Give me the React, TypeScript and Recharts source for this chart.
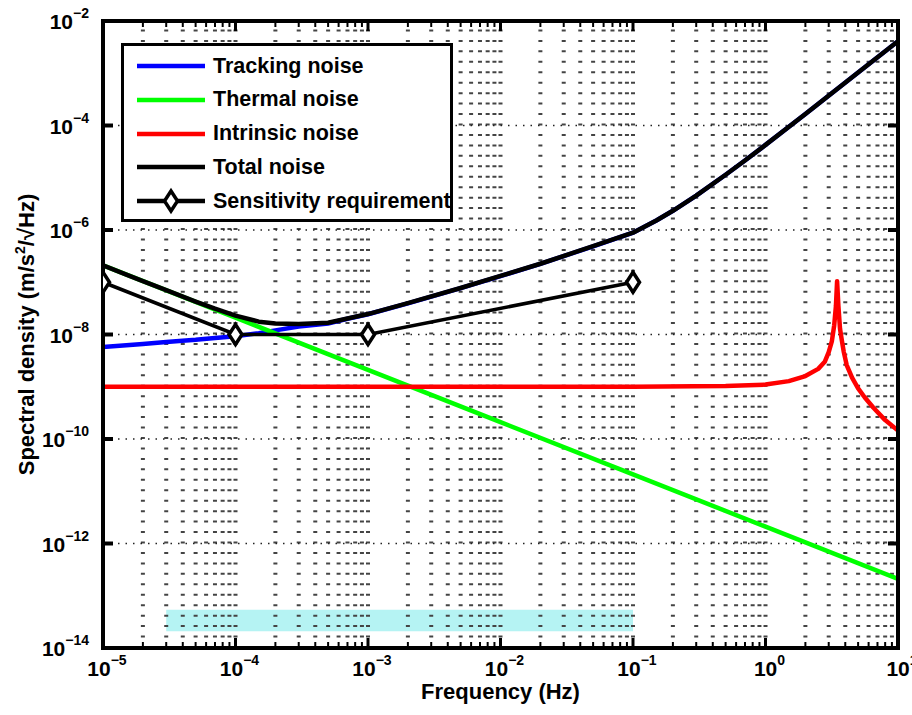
import { LineChart, Line, XAxis, YAxis, ReferenceLine, ReferenceArea, Label } from 'recharts';

const FONT = '"Liberation Sans", Arial, Helvetica, sans-serif';

// tracking noise and total noise share one frequency grid (Hz)
const freqNoise = [1e-5, 1.5e-5, 2e-5, 3e-5, 5e-5, 7e-5, 1e-4, 1.5e-4, 2e-4, 3e-4, 5e-4, 7e-4, 1e-3, 2e-3, 5e-3, 1e-2, 2e-2, 5e-2, 0.1, 0.15, 0.2, 0.3, 0.5, 0.7, 1, 2, 5, 10];
const trackingNoise = [5.75e-9, 6.2e-9, 6.6e-9, 7.2e-9, 7.9e-9, 8.6e-9, 9.3e-9, 1.06e-8, 1.2e-8, 1.42e-8, 1.62e-8, 2.0e-8, 2.44e-8, 3.95e-8, 7.7e-8, 1.31e-7, 2.25e-7, 4.88e-7, 8.9e-7, 1.52e-6, 2.33e-6, 4.54e-6, 1.14e-5, 2.14e-5, 4.25e-5, 1.66e-4, 1.03e-3, 4.1e-3];
const totalNoise = [2.1e-7, 1.4e-7, 1.05e-7, 7.04e-8, 4.27e-8, 3.12e-8, 2.3e-8, 1.76e-8, 1.62e-8, 1.58e-8, 1.68e-8, 2.03e-8, 2.46e-8, 3.98e-8, 7.76e-8, 1.32e-7, 2.26e-7, 4.9e-7, 8.9e-7, 1.52e-6, 2.33e-6, 4.54e-6, 1.14e-5, 2.14e-5, 4.25e-5, 1.66e-4, 1.03e-3, 4.1e-3];

const freqThermal = [1e-5, 1e-4, 1e-3, 1e-2, 0.1, 1, 10];
const thermalNoise = [2.1e-7, 2.1e-8, 2.1e-9, 2.1e-10, 2.1e-11, 2.1e-12, 2.1e-13];

const freqIntrinsic = [1e-5, 1e-3, 0.1, 0.5, 1, 1.5, 2, 2.5, 2.8, 3.0, 3.17, 3.3, 3.4, 3.47, 3.55, 3.65, 3.76, 3.9, 4.1, 4.5, 5, 5.6, 6.5, 8, 10];
const intrinsicNoise = [1e-9, 1e-9, 1e-9, 1.03e-9, 1.1e-9, 1.28e-9, 1.6e-9, 2.2e-9, 3.0e-9, 4.6e-9, 7.5e-9, 1.5e-8, 3.5e-8, 1.05e-7, 3.5e-8, 1.3e-8, 8e-9, 4.6e-9, 2.6e-9, 1.5e-9, 9.3e-10, 6.3e-10, 4.0e-10, 2.3e-10, 1.45e-10];

const freqRequirement = [1e-5, 1e-4, 1e-3, 0.1];
const requirement = [1e-7, 1e-8, 1e-8, 1e-7];

// frequency band marker
const bandFreq = [3e-5, 0.1];
const bandLevel = [2.1e-14, 5.4e-14];

const xTickExp = [-5, -4, -3, -2, -1, 0, 1];
const yTickExp = [-14, -12, -10, -8, -6, -4, -2];

const xMajor = xTickExp.map((e) => Math.pow(10, e));
const yMajor = yTickExp.map((e) => Math.pow(10, e));
const xMinor = xTickExp.slice(0, -1).flatMap((e) => [2, 3, 4, 5, 6, 7, 8, 9].map((m) => m * Math.pow(10, e)));
const xTicks = [...xMajor, ...xMinor].sort((a, b) => a - b);

const pts = (fs: number[], vs: number[]) => fs.map((f, i) => ({ f, v: vs[i] }));

const legendItems = [
  { name: 'Tracking noise', color: '#0000ff', marker: false },
  { name: 'Thermal noise', color: '#00ff00', marker: false },
  { name: 'Intrinsic noise', color: '#ff0000', marker: false },
  { name: 'Total noise', color: '#000000', marker: false },
  { name: 'Sensitivity requirement', color: '#000000', marker: true },
];

const isDecade = (v: number) => Math.abs(Math.log10(v) - Math.round(Math.log10(v))) < 1e-6;
const expOf = (v: number) => {
  const e = Math.round(Math.log10(v));
  return e < 0 ? '\u2212' + Math.abs(e) : String(e);
};

const diamond = (cx: number, cy: number) => `M${cx},${cy - 10} L${cx + 6.5},${cy} L${cx},${cy + 10} L${cx - 6.5},${cy} Z`;

const XTick = (props: any, side: string) => {
  const { x, y, payload } = props;
  const v = payload.value;
  const major = isDecade(v);
  const dir = side === 'bottom' ? -1 : 1;
  return (
    <g>
      <line x1={x} x2={x} y1={y} y2={y + dir * (major ? 10 : 6)} stroke="#000" strokeWidth={major ? 3 : 2} />
      {side === 'bottom' && major && (
        <text x={x + 4} y={y + 28} textAnchor="middle" fontFamily={FONT} fontWeight="bold" fontSize={21} fill="#000">
          10
          <tspan dy={-11} fontSize={14}>{expOf(v)}</tspan>
        </text>
      )}
    </g>
  );
};

const YTick = (props: any, side: string) => {
  const { x, y, payload } = props;
  const v = payload.value;
  const dir = side === 'left' ? 1 : -1;
  return (
    <g>
      <line x1={x} x2={x + dir * 10} y1={y} y2={y} stroke="#000" strokeWidth={4} />
      {side === 'left' && (
        <text x={x - 14} y={y + 8} textAnchor="end" fontFamily={FONT} fontWeight="bold" fontSize={21} fill="#000">
          10
          <tspan dy={-11} fontSize={14}>{expOf(v)}</tspan>
        </text>
      )}
    </g>
  );
};

const YLabel = (props: any) => {
  const vb = props.viewBox;
  const cx = vb.x + 11;
  const cy = vb.y + vb.height / 2;
  return (
    <text transform={`rotate(-90 ${cx} ${cy})`} x={cx} y={cy} textAnchor="middle" fontFamily={FONT} fontWeight="bold" fontSize={22} fill="#000">
      Spectral density (m/s
      <tspan dy={-9} fontSize={14}>2</tspan>
      <tspan dy={9}>/{'\u221A'}Hz)</tspan>
    </text>
  );
};

const XLabel = (props: any) => {
  const vb = props.viewBox;
  return (
    <text x={vb.x + vb.width / 2} y={vb.y + 51} textAnchor="middle" fontFamily={FONT} fontWeight="bold" fontSize={22} fill="#000">
      Frequency (Hz)
    </text>
  );
};

const renderDiamond = (props: any) => {
  const { cx, cy, index } = props;
  return <path key={`dm-${index}`} d={diamond(cx, cy)} fill="#fff" stroke="#000" strokeWidth={3.5} />;
};

const axisLine = { stroke: '#000', strokeWidth: 4, strokeLinecap: 'square' as const };

export default function App() {
  return (
    <div style={{ position: 'absolute', left: 0, top: 0, width: 912, height: 715, background: '#fff' }}>
      <LineChart width={912} height={715} margin={{ top: 20, right: 13, bottom: 0, left: 23 }}>
        <XAxis
          dataKey="f"
          type="number"
          scale="log"
          domain={[1e-5, 10]}
          allowDataOverflow
          ticks={xTicks}
          interval={0}
          tickSize={0}
          tickMargin={0}
          tickLine={false}
          axisLine={axisLine}
          height={67}
          tick={(p: any) => XTick(p, 'bottom')}
        >
          <Label content={XLabel} />
        </XAxis>
        <XAxis
          xAxisId="top"
          orientation="top"
          dataKey="f"
          type="number"
          scale="log"
          domain={[1e-5, 10]}
          allowDataOverflow
          ticks={xTicks}
          interval={0}
          tickSize={0}
          tickMargin={0}
          tickLine={false}
          axisLine={axisLine}
          height={1}
          tick={(p: any) => XTick(p, 'top')}
        />
        <YAxis
          type="number"
          scale="log"
          domain={[1e-14, 1e-2]}
          allowDataOverflow
          ticks={yMajor}
          interval={0}
          tickSize={0}
          tickMargin={0}
          tickLine={false}
          axisLine={axisLine}
          width={80}
          tick={(p: any) => YTick(p, 'left')}
        >
          <Label content={YLabel} />
        </YAxis>
        <YAxis
          yAxisId="right"
          orientation="right"
          type="number"
          scale="log"
          domain={[1e-14, 1e-2]}
          allowDataOverflow
          ticks={yMajor}
          interval={0}
          tickSize={0}
          tickMargin={0}
          tickLine={false}
          axisLine={axisLine}
          width={1}
          tick={(p: any) => YTick(p, 'right')}
        />

        {xTicks.slice(1, -1).map((v) => (
          <ReferenceLine key={`gx-${v}`} x={v} stroke="#444" strokeWidth={4} strokeDasharray="2 8.45" />
        ))}
        {yMajor.slice(1, -1).map((v) => (
          <ReferenceLine key={`gy-${v}`} y={v} stroke="#222" strokeWidth={1.3} strokeDasharray="1.5 6" />
        ))}
        <ReferenceArea x1={bandFreq[0]} x2={bandFreq[1]} y1={bandLevel[0]} y2={bandLevel[1]} fill="#b5f3f3" fillOpacity={1} stroke="none" />

        <Line data={pts(freqNoise, trackingNoise)} dataKey="v" type="linear" stroke="#0000ff" strokeWidth={4.5} dot={false} activeDot={false} isAnimationActive={false} />
        <Line data={pts(freqThermal, thermalNoise)} dataKey="v" type="linear" stroke="#00ff00" strokeWidth={4.5} dot={false} activeDot={false} isAnimationActive={false} />
        <Line data={pts(freqIntrinsic, intrinsicNoise)} dataKey="v" type="linear" stroke="#ff0000" strokeWidth={4.5} strokeLinejoin="round" dot={false} activeDot={false} isAnimationActive={false} />
        <Line data={pts(freqNoise, totalNoise)} dataKey="v" type="linear" stroke="#000" strokeWidth={4.5} strokeLinejoin="round" dot={false} activeDot={false} isAnimationActive={false} />
        <Line data={pts(freqRequirement, requirement)} dataKey="v" type="linear" stroke="#000" strokeWidth={3.5} dot={renderDiamond} activeDot={false} isAnimationActive={false} />
      </LineChart>

      <div
        style={{
          position: 'absolute',
          left: 121,
          top: 43,
          width: 332,
          height: 179,
          border: '3px solid #000',
          boxSizing: 'border-box',
          background: '#fff',
          fontFamily: FONT,
          fontWeight: 'bold',
          fontSize: 21.5,
          color: '#000',
        }}
      >
        {legendItems.map((it, i) => (
          <div key={it.name} style={{ position: 'absolute', left: 13, top: 5 + i * 33.75, height: 30, display: 'flex', alignItems: 'center', whiteSpace: 'nowrap' }}>
            <svg width={68} height={30}>
              <line x1={0} x2={68} y1={15} y2={15} stroke={it.color} strokeWidth={4.5} />
              {it.marker && <path d={diamond(34, 15)} fill="#fff" stroke="#000" strokeWidth={3.5} />}
            </svg>
            <span style={{ marginLeft: 8 }}>{it.name}</span>
          </div>
        ))}
      </div>
    </div>
  );
}
